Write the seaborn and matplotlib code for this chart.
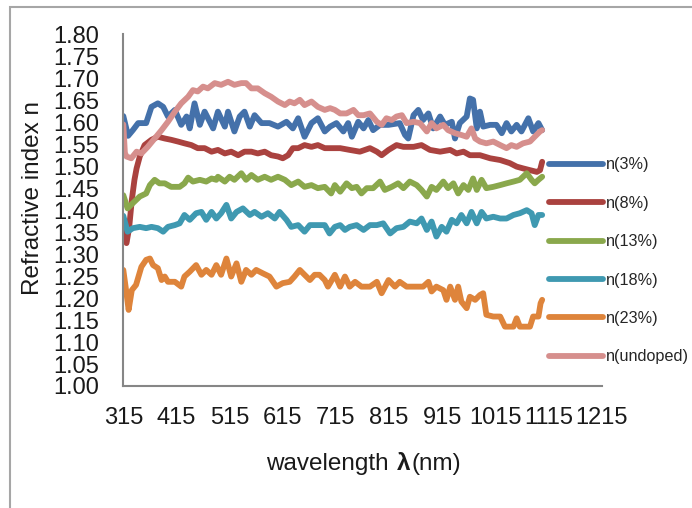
import matplotlib
matplotlib.use("Agg")
import matplotlib.pyplot as plt
from matplotlib.lines import Line2D
from matplotlib.patches import Rectangle
import numpy as np
import pandas as pd
import seaborn as sns

# values (wavelength nm, refractive index)
wl_3 = [315, 324, 333, 343, 358, 368, 380, 390, 399, 412,
        424, 434, 440, 449, 459, 468, 484, 493, 506, 512,
        524, 534, 543, 553, 562, 575, 590, 606, 622, 634,
        644, 656, 669, 681, 694, 704, 716, 729, 738, 745,
        757, 767, 776, 785, 798, 814, 835, 845, 851, 861,
        870, 879, 889, 898, 911, 920, 933, 939, 948, 961,
        967, 973, 980, 986, 992, 1005, 1017, 1027, 1036, 1045,
        1055, 1064, 1077, 1086, 1096, 1103]
n_3 = [1.614, 1.569, 1.582, 1.598, 1.598, 1.635, 1.643, 1.635, 1.613, 1.628,
       1.594, 1.613, 1.586, 1.643, 1.594, 1.624, 1.586, 1.624, 1.590, 1.624,
       1.579, 1.613, 1.624, 1.590, 1.616, 1.598, 1.598, 1.590, 1.601, 1.586,
       1.609, 1.567, 1.598, 1.609, 1.579, 1.590, 1.598, 1.579, 1.598, 1.567,
       1.601, 1.586, 1.605, 1.582, 1.594, 1.594, 1.598, 1.571, 1.563, 1.616,
       1.628, 1.605, 1.620, 1.586, 1.613, 1.594, 1.601, 1.563, 1.598, 1.613,
       1.654, 1.651, 1.586, 1.624, 1.590, 1.594, 1.594, 1.575, 1.598, 1.579,
       1.594, 1.579, 1.609, 1.579, 1.598, 1.582]

wl_8 = [315, 318, 321, 326, 331, 336, 340, 346, 355, 368,
        380, 393, 405, 418, 430, 443, 455, 468, 481, 493,
        506, 518, 531, 543, 556, 568, 581, 593, 606, 615,
        625, 634, 644, 656, 669, 681, 694, 704, 723, 741,
        760, 779, 792, 801, 814, 829, 842, 861, 876, 892,
        911, 930, 942, 955, 967, 986, 1005, 1024, 1042, 1055,
        1067, 1080, 1093, 1099, 1103]
n_8 = [1.360, 1.335, 1.325, 1.360, 1.423, 1.469, 1.495, 1.522, 1.548, 1.560,
       1.567, 1.563, 1.560, 1.556, 1.552, 1.548, 1.541, 1.541, 1.533, 1.537,
       1.529, 1.533, 1.525, 1.533, 1.533, 1.529, 1.533, 1.525, 1.522, 1.518,
       1.525, 1.541, 1.541, 1.548, 1.544, 1.548, 1.541, 1.541, 1.541, 1.537,
       1.533, 1.541, 1.533, 1.525, 1.537, 1.548, 1.544, 1.544, 1.548, 1.537,
       1.533, 1.537, 1.529, 1.533, 1.525, 1.525, 1.518, 1.514, 1.507, 1.499,
       1.495, 1.491, 1.487, 1.491, 1.510]

wl_13 = [315, 323, 333, 346, 358, 365, 374, 383, 393, 405,
         421, 430, 437, 446, 459, 471, 481, 490, 493, 506,
         515, 524, 537, 546, 556, 568, 581, 593, 606, 619,
         631, 644, 656, 669, 681, 694, 706, 713, 723, 735,
         745, 754, 763, 773, 785, 798, 807, 820, 832, 842,
         854, 867, 876, 886, 895, 904, 917, 926, 936, 945,
         955, 964, 973, 980, 989, 998, 1011, 1024, 1036, 1049,
         1061, 1074, 1083, 1089, 1096, 1103]
n_13 = [1.434, 1.404, 1.416, 1.431, 1.438, 1.457, 1.469, 1.461, 1.461, 1.453,
        1.453, 1.461, 1.474, 1.465, 1.469, 1.465, 1.472, 1.469, 1.476, 1.465,
        1.476, 1.469, 1.484, 1.469, 1.480, 1.469, 1.476, 1.469, 1.476, 1.469,
        1.457, 1.465, 1.453, 1.457, 1.450, 1.453, 1.438, 1.457, 1.442, 1.461,
        1.450, 1.453, 1.438, 1.450, 1.450, 1.465, 1.446, 1.453, 1.461, 1.450,
        1.465, 1.457, 1.446, 1.431, 1.453, 1.446, 1.465, 1.450, 1.461, 1.438,
        1.457, 1.446, 1.472, 1.446, 1.469, 1.450, 1.453, 1.457, 1.461, 1.465,
        1.469, 1.484, 1.469, 1.461, 1.469, 1.476]

wl_18 = [315, 323, 333, 346, 358, 368, 380, 390, 399, 412,
         421, 430, 440, 452, 462, 471, 481, 490, 499, 509,
         518, 528, 540, 553, 562, 575, 587, 600, 609, 622,
         631, 644, 656, 666, 681, 694, 703, 713, 723, 732,
         741, 754, 767, 779, 792, 804, 817, 829, 842, 854,
         867, 876, 886, 895, 904, 914, 923, 933, 942, 951,
         961, 970, 980, 989, 998, 1011, 1024, 1036, 1049, 1061,
         1074, 1083, 1089, 1096, 1103]
n_18 = [1.387, 1.351, 1.359, 1.362, 1.359, 1.362, 1.359, 1.351, 1.362, 1.366,
        1.370, 1.389, 1.378, 1.393, 1.396, 1.378, 1.396, 1.381, 1.393, 1.412,
        1.381, 1.396, 1.404, 1.389, 1.396, 1.385, 1.393, 1.381, 1.396, 1.378,
        1.362, 1.366, 1.351, 1.366, 1.366, 1.366, 1.347, 1.362, 1.366, 1.355,
        1.362, 1.366, 1.355, 1.366, 1.366, 1.370, 1.347, 1.359, 1.362, 1.374,
        1.370, 1.381, 1.355, 1.374, 1.340, 1.362, 1.351, 1.378, 1.370, 1.389,
        1.370, 1.396, 1.370, 1.396, 1.381, 1.385, 1.381, 1.381, 1.389, 1.393,
        1.400, 1.393, 1.366, 1.389, 1.389]

wl_23 = [315, 321, 325, 331, 339, 349, 358, 365, 371, 380,
         387, 393, 399, 412, 424, 430, 440, 452, 462, 471,
         481, 490, 499, 509, 518, 528, 537, 546, 556, 565,
         578, 590, 603, 615, 628, 637, 647, 656, 666, 675,
         684, 694, 700, 704, 713, 723, 732, 741, 751, 763,
         779, 792, 801, 814, 826, 835, 848, 867, 879, 889,
         895, 904, 917, 923, 930, 939, 945, 951, 961, 967,
         977, 986, 992, 998, 1011, 1024, 1033, 1049, 1055, 1061,
         1080, 1086, 1096, 1100, 1103]
n_23 = [1.264, 1.211, 1.173, 1.218, 1.230, 1.271, 1.287, 1.290, 1.275, 1.268,
        1.241, 1.249, 1.237, 1.237, 1.226, 1.249, 1.260, 1.275, 1.253, 1.264,
        1.253, 1.275, 1.253, 1.290, 1.249, 1.279, 1.237, 1.264, 1.253, 1.264,
        1.256, 1.249, 1.226, 1.234, 1.237, 1.249, 1.264, 1.253, 1.241, 1.253,
        1.253, 1.241, 1.226, 1.234, 1.253, 1.226, 1.249, 1.226, 1.237, 1.226,
        1.226, 1.237, 1.211, 1.241, 1.226, 1.237, 1.226, 1.226, 1.226, 1.237,
        1.215, 1.226, 1.218, 1.196, 1.226, 1.196, 1.226, 1.192, 1.177, 1.203,
        1.196, 1.207, 1.211, 1.162, 1.158, 1.158, 1.135, 1.135, 1.154, 1.135,
        1.135, 1.158, 1.158, 1.188, 1.196]

wl_und = [315, 318, 321, 330, 340, 349, 361, 374, 387, 399,
          412, 424, 437, 446, 455, 465, 474, 487, 499, 512,
          524, 537, 546, 556, 568, 581, 593, 606, 619, 628,
          637, 647, 656, 669, 681, 694, 704, 713, 723, 735,
          748, 757, 767, 779, 792, 801, 810, 820, 829, 839,
          848, 861, 873, 886, 895, 904, 917, 926, 939, 951,
          961, 970, 977, 986, 998, 1011, 1024, 1036, 1045, 1055,
          1067, 1080, 1089, 1099, 1103]
n_und = [1.595, 1.530, 1.522, 1.518, 1.533, 1.529, 1.544, 1.563, 1.582, 1.601,
         1.624, 1.643, 1.658, 1.673, 1.670, 1.681, 1.677, 1.689, 1.685, 1.692,
         1.685, 1.689, 1.689, 1.677, 1.677, 1.666, 1.658, 1.647, 1.639, 1.647,
         1.643, 1.651, 1.639, 1.647, 1.635, 1.628, 1.632, 1.628, 1.620, 1.620,
         1.628, 1.616, 1.616, 1.620, 1.601, 1.594, 1.609, 1.605, 1.613, 1.616,
         1.598, 1.601, 1.598, 1.579, 1.598, 1.586, 1.594, 1.582, 1.575, 1.571,
         1.567, 1.586, 1.563, 1.556, 1.552, 1.556, 1.548, 1.541, 1.548, 1.544,
         1.552, 1.556, 1.567, 1.579, 1.582]

labels = ["n(3%)", "n(8%)", "n(13%)", "n(18%)", "n(23%)", "n(undoped)"]
colors = ["#4471AA", "#AA423F", "#8AA84C", "#3F99B1", "#DE843B", "#D68F8D"]
x_ticks = [315, 415, 515, 615, 715, 815, 915, 1015, 1115, 1215]

W, H = 692, 508

sns.set_style("white")
plt.rcParams["font.family"] = ["Liberation Sans", "DejaVu Sans"]

frames = []
for lab, wl, n in zip(labels, [wl_3, wl_8, wl_13, wl_18, wl_23, wl_und],
                      [n_3, n_8, n_13, n_18, n_23, n_und]):
    frames.append(pd.DataFrame({"wavelength": wl, "n": n, "sample": lab}))
df = pd.concat(frames, ignore_index=True)

fig = plt.figure(figsize=(W / 100, H / 100), dpi=100)
ax = fig.add_axes([123.3 / W, 1 - 386 / H, 478.4 / W, 351.7 / H])

sns.lineplot(data=df, x="wavelength", y="n", hue="sample", hue_order=labels,
             palette=colors, estimator=None, sort=False, lw=4.2, legend=False, ax=ax)
for ln in ax.lines:
    ln.set_solid_joinstyle("round")
    ln.set_solid_capstyle("round")

ax.set_xlim(315, 1215)
ax.set_ylim(1.0, 1.8)
ax.set_xticks(x_ticks)
yt = np.arange(1.0, 1.801, 0.05)
ax.set_yticks(yt)
ax.set_yticklabels([f"{v:.2f}" for v in yt])
ax.set_xlabel("")
ax.set_ylabel("")

for s in ["top", "right"]:
    ax.spines[s].set_visible(False)
for s in ["left", "bottom"]:
    ax.spines[s].set_color("#868686")
    ax.spines[s].set_linewidth(1.5)
ax.tick_params(axis="both", direction="out", length=5.8, width=1.5, color="#868686",
               labelsize=17, labelcolor="#1a1a1a")
ax.tick_params(axis="y", pad=11.5)
ax.tick_params(axis="x", pad=9.4)

# axis titles
fig.text(33 / W, 1 - 198 / H, "Refractive index n", rotation=90, fontsize=17.5,
         ha="center", va="center", color="#1a1a1a")

renderer = fig.canvas.get_renderer()
yb = 1 - 470 / H
parts = [("wavelength", "normal", 0), ("λ", "bold", 9), ("(nm)", "normal", 1)]
texts = []
total = 0
for txt, wt, gap in parts:
    t = fig.text(0, yb, txt, fontsize=17.5, fontweight=wt, va="baseline", ha="left",
                 color="#1a1a1a")
    w = t.get_window_extent(renderer).width
    texts.append((t, w, gap))
    total += w + gap
x = 363.5 - total / 2
for t, w, gap in texts:
    x += gap
    t.set_x(x / W)
    x += w

handles = [Line2D([], [], color=c, lw=4.2, solid_capstyle="round") for c in colors]
fig.legend(handles, labels, loc="upper left", bbox_to_anchor=(549 / W, 1 - 157.5 / H),
           bbox_transform=fig.transFigure, frameon=False, fontsize=11.7,
           handlelength=3.3, handletextpad=0.2, labelspacing=1.44,
           borderpad=0, borderaxespad=0)

# chart-area border (only top and left visible)
fig.add_artist(Rectangle((10 / W, -0.1), 1.2, 1.1 - 7 / H, transform=fig.transFigure,
                         fill=False, edgecolor="#A6A6A6", lw=1.5))

fig.savefig("out.png", dpi=100)
